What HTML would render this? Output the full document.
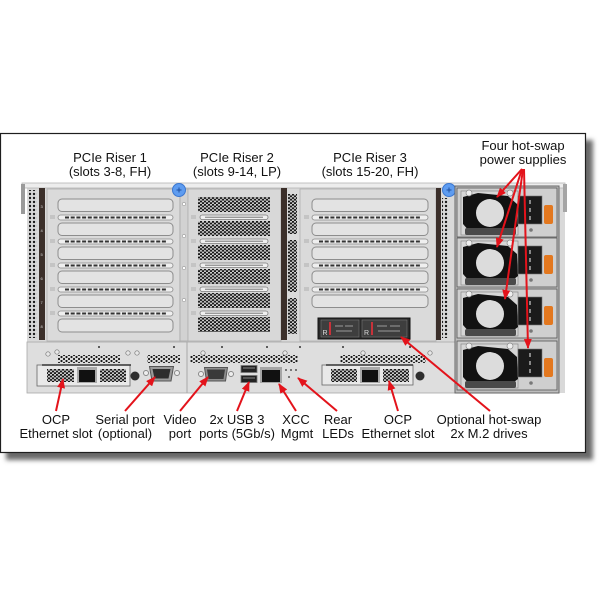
<!DOCTYPE html>
<html><head><meta charset="utf-8"><style>
html,body{margin:0;padding:0;background:#fff;}
svg{display:block;}
text{font-family:"Liberation Sans",Arial,sans-serif;font-size:13px;fill:#111;}
</style></head><body>
<svg width="600" height="600" viewBox="0 0 600 600" xmlns="http://www.w3.org/2000/svg">
<defs>
<filter id="blur" x="-5%" y="-5%" width="110%" height="110%"><feGaussianBlur stdDeviation="2.5"/></filter>
<pattern id="hex" width="4" height="3.4" patternUnits="userSpaceOnUse"><rect width="4" height="3.4" fill="#cfcfcf"/><circle cx="1" cy="0.85" r="1.1" fill="#151515"/><circle cx="3" cy="2.55" r="1.1" fill="#151515"/></pattern>
<pattern id="dots" width="5" height="4" patternUnits="userSpaceOnUse"><circle cx="1.5" cy="1" r="1.1" fill="#1a1a1a"/><circle cx="4" cy="3" r="1.1" fill="#1a1a1a"/></pattern>
<pattern id="col" width="4" height="4" patternUnits="userSpaceOnUse"><circle cx="2" cy="2" r="1.2" fill="#1a1a1a"/></pattern>
<marker id="ah" viewBox="0 0 10 8" refX="9" refY="4" markerWidth="10" markerHeight="8" markerUnits="userSpaceOnUse" orient="auto"><path d="M0,0 L10,4 L0,8 Z" fill="#e3131b"/></marker>
</defs>

<!-- frame with shadow -->
<rect x="6" y="140" width="587" height="320" fill="#6a6a6a" filter="url(#blur)"/>
<rect x="0.5" y="133.5" width="585" height="319" fill="#fff" stroke="#1e1e1e" stroke-width="1.2"/>

<!-- labels top -->
<text x="110" y="162" text-anchor="middle">PCIe Riser 1</text>
<text x="110" y="176" text-anchor="middle">(slots 3-8, FH)</text>
<text x="237" y="162" text-anchor="middle">PCIe Riser 2</text>
<text x="237" y="176" text-anchor="middle">(slots 9-14, LP)</text>
<text x="370" y="162" text-anchor="middle">PCIe Riser 3</text>
<text x="370" y="176" text-anchor="middle">(slots 15-20, FH)</text>
<text x="523" y="150" text-anchor="middle">Four hot-swap</text>
<text x="523" y="164" text-anchor="middle">power supplies</text>

<!-- chassis -->
<rect x="27" y="183" width="538" height="210" fill="#d9d9d9"/>
<rect x="22" y="183" width="543" height="5" fill="#ededed" stroke="#b5b5b5" stroke-width="0.8"/>
<rect x="21" y="184" width="4" height="30" fill="#9a9a9a"/>
<rect x="563" y="184" width="4" height="28" fill="#a5a5a5"/>

<!-- left column -->
<rect x="29" y="190" width="8" height="148" fill="url(#col)"/>
<rect x="39" y="188" width="6" height="152" fill="#3b2f2a"/>
<g style="font-size:4px;fill:#ddd">
<text x="40.5" y="208" style="font-size:4px;fill:#ddd">3</text>
<text x="40.5" y="232" style="font-size:4px;fill:#ddd">4</text>
<text x="40.5" y="256" style="font-size:4px;fill:#ddd">5</text>
<text x="40.5" y="280" style="font-size:4px;fill:#ddd">6</text>
<text x="40.5" y="304" style="font-size:4px;fill:#ddd">7</text>
<text x="40.5" y="328" style="font-size:4px;fill:#ddd">8</text>
</g>

<!-- riser 1 cage -->
<rect x="47" y="189" width="133" height="152" fill="#dadada" stroke="#b0b0b0" stroke-width="0.8"/>
<g fill="#e3e3e3" stroke="#8d8d8d" stroke-width="1">
<rect x="58" y="199" width="115" height="12.5" rx="4"/>
<rect x="58" y="223" width="115" height="12.5" rx="4"/>
<rect x="58" y="247" width="115" height="12.5" rx="4"/>
<rect x="58" y="271" width="115" height="12.5" rx="4"/>
<rect x="58" y="295" width="115" height="12.5" rx="4"/>
<rect x="58" y="319" width="115" height="13" rx="4"/>
</g>
<g fill="#efefef" stroke="#8a8a8a" stroke-width="0.8">
<rect x="58" y="215" width="115" height="5" rx="2.5"/>
<rect x="58" y="239" width="115" height="5" rx="2.5"/>
<rect x="58" y="263" width="115" height="5" rx="2.5"/>
<rect x="58" y="287" width="115" height="5" rx="2.5"/>
<rect x="58" y="311" width="115" height="5" rx="2.5"/>
</g>
<g stroke="#333" stroke-width="2" stroke-dasharray="4 1.7">
<line x1="65" y1="217.5" x2="167" y2="217.5"/>
<line x1="65" y1="241.5" x2="167" y2="241.5"/>
<line x1="65" y1="265.5" x2="167" y2="265.5"/>
<line x1="65" y1="289.5" x2="167" y2="289.5"/>
<line x1="65" y1="313.5" x2="167" y2="313.5"/>
</g>
<g fill="#c4c4c4">
<rect x="50" y="215" width="5" height="4"/><rect x="50" y="239" width="5" height="4"/><rect x="50" y="263" width="5" height="4"/><rect x="50" y="287" width="5" height="4"/><rect x="50" y="311" width="5" height="4"/>
</g>
<!-- divider 1 -->
<rect x="180" y="189" width="8" height="152" fill="#d2d2d2" stroke="#a8a8a8" stroke-width="0.8"/>
<g fill="#fff" stroke="#999" stroke-width="0.6">
<circle cx="184" cy="204" r="1.6"/><circle cx="184" cy="236" r="1.6"/><circle cx="184" cy="268" r="1.6"/><circle cx="184" cy="300" r="1.6"/>
</g>

<!-- riser 2 cage -->
<rect x="188" y="189" width="93" height="152" fill="#d8d8d8" stroke="#b0b0b0" stroke-width="0.8"/>
<g fill="url(#hex)">
<rect x="198" y="197" width="72" height="15"/>
<rect x="198" y="221" width="72" height="15"/>
<rect x="198" y="245" width="72" height="15"/>
<rect x="198" y="269" width="72" height="15"/>
<rect x="198" y="293" width="72" height="15"/>
<rect x="198" y="317" width="72" height="15"/>
</g>
<g fill="#efefef" stroke="#7a7a7a" stroke-width="0.8">
<rect x="200" y="215" width="68" height="4.5" rx="2.2"/>
<rect x="200" y="239" width="68" height="4.5" rx="2.2"/>
<rect x="200" y="263" width="68" height="4.5" rx="2.2"/>
<rect x="200" y="287" width="68" height="4.5" rx="2.2"/>
<rect x="200" y="311" width="68" height="4.5" rx="2.2"/>
</g>
<g stroke="#666" stroke-width="0.8">
<line x1="205" y1="217.2" x2="263" y2="217.2"/><line x1="205" y1="241.2" x2="263" y2="241.2"/><line x1="205" y1="265.2" x2="263" y2="265.2"/><line x1="205" y1="289.2" x2="263" y2="289.2"/><line x1="205" y1="313.2" x2="263" y2="313.2"/>
</g>
<g fill="#c4c4c4">
<rect x="191" y="215" width="5" height="4"/><rect x="191" y="239" width="5" height="4"/><rect x="191" y="263" width="5" height="4"/><rect x="191" y="287" width="5" height="4"/><rect x="191" y="311" width="5" height="4"/>
</g>
<rect x="281" y="188" width="6" height="152" fill="#3b2f2a"/>
<rect x="288" y="194" width="9" height="40" fill="url(#hex)"/>
<rect x="288" y="240" width="9" height="52" fill="url(#hex)"/>
<rect x="288" y="298" width="9" height="36" fill="url(#hex)"/>

<!-- riser 3 cage -->
<rect x="300" y="189" width="136" height="152" fill="#dadada" stroke="#b0b0b0" stroke-width="0.8"/>
<g fill="#e3e3e3" stroke="#8d8d8d" stroke-width="1">
<rect x="312" y="199" width="116" height="12.5" rx="4"/>
<rect x="312" y="223" width="116" height="12.5" rx="4"/>
<rect x="312" y="247" width="116" height="12.5" rx="4"/>
<rect x="312" y="271" width="116" height="12.5" rx="4"/>
<rect x="312" y="295" width="116" height="12.5" rx="4"/>
</g>
<g fill="#efefef" stroke="#8a8a8a" stroke-width="0.8">
<rect x="312" y="215" width="116" height="5" rx="2.5"/>
<rect x="312" y="239" width="116" height="5" rx="2.5"/>
<rect x="312" y="263" width="116" height="5" rx="2.5"/>
<rect x="312" y="287" width="116" height="5" rx="2.5"/>
</g>
<g stroke="#333" stroke-width="2" stroke-dasharray="4 1.7">
<line x1="319" y1="217.5" x2="421" y2="217.5"/>
<line x1="319" y1="241.5" x2="421" y2="241.5"/>
<line x1="319" y1="265.5" x2="421" y2="265.5"/>
<line x1="319" y1="289.5" x2="421" y2="289.5"/>
</g>
<g fill="#c4c4c4">
<rect x="304" y="215" width="5" height="4"/><rect x="304" y="239" width="5" height="4"/><rect x="304" y="263" width="5" height="4"/><rect x="304" y="287" width="5" height="4"/>
</g>
<!-- M.2 cage -->
<rect x="318" y="318" width="92" height="21" fill="#2a2a2a" stroke="#111"/>
<rect x="321" y="320" width="38" height="17" fill="#3e3e3e" stroke="#777" stroke-width="0.6"/>
<rect x="362" y="320" width="45" height="17" fill="#3e3e3e" stroke="#777" stroke-width="0.6"/>
<rect x="329" y="322" width="2" height="13" fill="#c8323a"/>
<rect x="371" y="322" width="2" height="13" fill="#c8323a"/>
<text x="322.5" y="335" style="font-size:7px;fill:#ddd">R</text>
<text x="364" y="335" style="font-size:7px;fill:#ddd">R</text>
<g stroke="#bbb" stroke-width="0.8" fill="none">
<path d="M335 326 h8 M345 326 h8 M336 331 h16"/>
<path d="M377 326 h10 M390 326 h10 M378 331 h22"/>
</g>

<rect x="436" y="188" width="5" height="152" fill="#3b2f2a"/>
<rect x="442" y="198" width="6" height="140" fill="url(#col)"/>

<!-- thumbscrews -->
<circle cx="179" cy="190" r="6.5" fill="#5e9cf0" stroke="#3b77d0" stroke-width="1"/>
<path d="M176.5 190 h5 M179 187.5 v5" stroke="#1d4fa0" stroke-width="1"/>
<circle cx="449" cy="190" r="6.5" fill="#5e9cf0" stroke="#3b77d0" stroke-width="1"/>
<path d="M446.5 190 h5 M449 187.5 v5" stroke="#1d4fa0" stroke-width="1"/>

<!-- I/O panel -->
<rect x="27" y="342" width="428" height="51" fill="#dedede" stroke="#a8a8a8" stroke-width="0.8"/>
<line x1="187" y1="342" x2="187" y2="393" stroke="#a8a8a8"/>
<rect x="58" y="355" width="62" height="8" fill="url(#dots)"/>
<rect x="147" y="355" width="33" height="8" fill="url(#dots)"/>
<rect x="190" y="355" width="108" height="8" fill="url(#dots)"/>
<rect x="340" y="355" width="86" height="8" fill="url(#dots)"/>
<g fill="#e8e8e8" stroke="#777" stroke-width="0.7">
<circle cx="48" cy="354" r="2.2"/><circle cx="57" cy="352" r="2.2"/><circle cx="128" cy="353" r="2.2"/><circle cx="137" cy="353" r="2.2"/>
<circle cx="203" cy="353" r="2.2"/><circle cx="285" cy="353" r="2.2"/><circle cx="363" cy="353" r="2.2"/><circle cx="430" cy="353" r="2.2"/>
</g>
<g fill="#333">
<circle cx="99" cy="347" r="1"/><circle cx="174" cy="347" r="1"/><circle cx="222" cy="347" r="1"/><circle cx="267" cy="347" r="1"/><circle cx="300" cy="347" r="1"/><circle cx="343" cy="347" r="1"/><circle cx="410" cy="347" r="1"/>
</g>

<!-- OCP left -->
<rect x="37" y="365" width="93" height="21" fill="#e9e9e9" stroke="#666" stroke-width="0.8"/>
<line x1="42" y1="365" x2="131" y2="365" stroke="#333" stroke-width="1.5"/>
<rect x="47" y="369" width="27" height="13" fill="url(#hex)"/>
<rect x="100" y="369" width="26" height="13" fill="url(#hex)"/>
<rect x="77" y="367" width="20" height="16" fill="#aaa"/>
<rect x="79" y="370" width="16" height="12" fill="#111"/>
<circle cx="135" cy="376" r="4.5" fill="#2e2e2e"/>
<!-- serial -->
<circle cx="146" cy="373" r="2.5" fill="#eee" stroke="#888"/>
<circle cx="177" cy="373" r="2.5" fill="#eee" stroke="#888"/>
<path d="M149.5 366.5 L173.5 366.5 L171 381 L152 381 Z" fill="#999" stroke="#555"/>
<path d="M152.5 369 L170.5 369 L168.5 378.5 L154.5 378.5 Z" fill="#2d2d2d"/>
<!-- video -->
<circle cx="201" cy="374" r="2.5" fill="#eee" stroke="#888"/>
<circle cx="231" cy="374" r="2.5" fill="#eee" stroke="#888"/>
<path d="M204.5 367.5 L227.5 367.5 L225.5 381 L206.5 381 Z" fill="#8d8d8d" stroke="#555"/>
<path d="M207 369.5 L225 369.5 L223.5 379 L208.5 379 Z" fill="#3a3a3a"/>
<!-- usb -->
<rect x="241" y="365.5" width="16" height="7" fill="#222" stroke="#777" stroke-width="0.8"/>
<rect x="241" y="375.5" width="16" height="7" fill="#222" stroke="#777" stroke-width="0.8"/>
<line x1="243" y1="368" x2="255" y2="368" stroke="#888"/>
<line x1="243" y1="378" x2="255" y2="378" stroke="#888"/>
<!-- rj45 xcc -->
<rect x="260" y="367" width="22" height="16" fill="#a5a5a5"/>
<rect x="262" y="370" width="18" height="12" fill="#111"/>
<!-- leds -->
<g fill="#555"><circle cx="286" cy="370" r="1"/><circle cx="291" cy="370" r="1"/><circle cx="296" cy="370" r="1"/><circle cx="289" cy="377" r="1"/></g>
<!-- OCP right -->
<rect x="322" y="365" width="91" height="20" fill="#e9e9e9" stroke="#666" stroke-width="0.8"/>
<line x1="326" y1="365" x2="413" y2="365" stroke="#333" stroke-width="1.5"/>
<rect x="331" y="369" width="26" height="13" fill="url(#hex)"/>
<rect x="383" y="369" width="26" height="13" fill="url(#hex)"/>
<rect x="360" y="367" width="20" height="16" fill="#aaa"/>
<rect x="362" y="370" width="16" height="12" fill="#111"/>
<circle cx="420" cy="376" r="4.5" fill="#2e2e2e"/>

<!-- PSUs -->
<rect x="455" y="186" width="104" height="207" fill="#bdbdbd" stroke="#666"/>
<g id="psu">
<rect x="457" y="188" width="100" height="49" fill="#cfcfcf" stroke="#555" stroke-width="0.8"/>
<rect x="461" y="191" width="57" height="44" fill="#d6d6d6" stroke="#8a8a8a" stroke-width="0.7"/>
<path d="M463 197 L478 193 L508 196 L517 204 L518 226 L510 232 L470 232 L463 224 Z" fill="#121212"/>
<circle cx="490" cy="213" r="14" fill="#dcdcdc"/>
<path d="M476 200 Q486 196 495 199" stroke="#121212" stroke-width="2" fill="none"/>
<rect x="465" y="228" width="51" height="7" rx="2" fill="#4a4a4a"/>
<circle cx="469" cy="193" r="3" fill="#eee" stroke="#888" stroke-width="0.7"/>
<circle cx="510" cy="193" r="3" fill="#eee" stroke="#888" stroke-width="0.7"/>
<rect x="518" y="196" width="24" height="28" fill="#1b1b1b" stroke="#777" stroke-width="0.6"/>
<g fill="#888"><rect x="529" y="200" width="2" height="4"/><rect x="529" y="208" width="2" height="4"/><rect x="529" y="216" width="2" height="4"/></g>
<rect x="544" y="205" width="9" height="19" rx="2" fill="#e3781f"/>
<circle cx="531" cy="230" r="1.8" fill="#777"/>
</g>
<use href="#psu" transform="translate(0,50)"/>
<use href="#psu" transform="translate(0,101)"/>
<use href="#psu" transform="translate(0,153)"/>

<!-- arrows -->
<g stroke="#e3131b" stroke-width="2" fill="none" marker-end="url(#ah)">
<line x1="56" y1="411" x2="63" y2="379"/>
<line x1="125" y1="411" x2="155" y2="377"/>
<line x1="180" y1="411" x2="208" y2="377"/>
<line x1="237" y1="411" x2="249" y2="382"/>
<line x1="296" y1="411" x2="279" y2="384"/>
<line x1="337" y1="411" x2="298" y2="378"/>
<line x1="398" y1="411" x2="389" y2="381"/>
<line x1="490" y1="411" x2="401" y2="337"/>
<line x1="522" y1="169" x2="497" y2="197"/>
<line x1="522" y1="169" x2="497" y2="247"/>
<line x1="523" y1="169" x2="505" y2="299"/>
<line x1="524" y1="169" x2="528" y2="348"/>
</g>

<!-- labels bottom -->
<text x="56" y="424" text-anchor="middle">OCP</text>
<text x="56" y="438" text-anchor="middle">Ethernet slot</text>
<text x="125" y="424" text-anchor="middle">Serial port</text>
<text x="125" y="438" text-anchor="middle">(optional)</text>
<text x="180" y="424" text-anchor="middle">Video</text>
<text x="180" y="438" text-anchor="middle">port</text>
<text x="237" y="424" text-anchor="middle">2x USB 3</text>
<text x="237" y="438" text-anchor="middle">ports (5Gb/s)</text>
<text x="296" y="424" text-anchor="middle">XCC</text>
<text x="297" y="438" text-anchor="middle">Mgmt</text>
<text x="338" y="424" text-anchor="middle">Rear</text>
<text x="338" y="438" text-anchor="middle">LEDs</text>
<text x="398" y="424" text-anchor="middle">OCP</text>
<text x="398" y="438" text-anchor="middle">Ethernet slot</text>
<text x="489" y="424" text-anchor="middle">Optional hot-swap</text>
<text x="489" y="438" text-anchor="middle">2x M.2 drives</text>
</svg>
</body></html>
